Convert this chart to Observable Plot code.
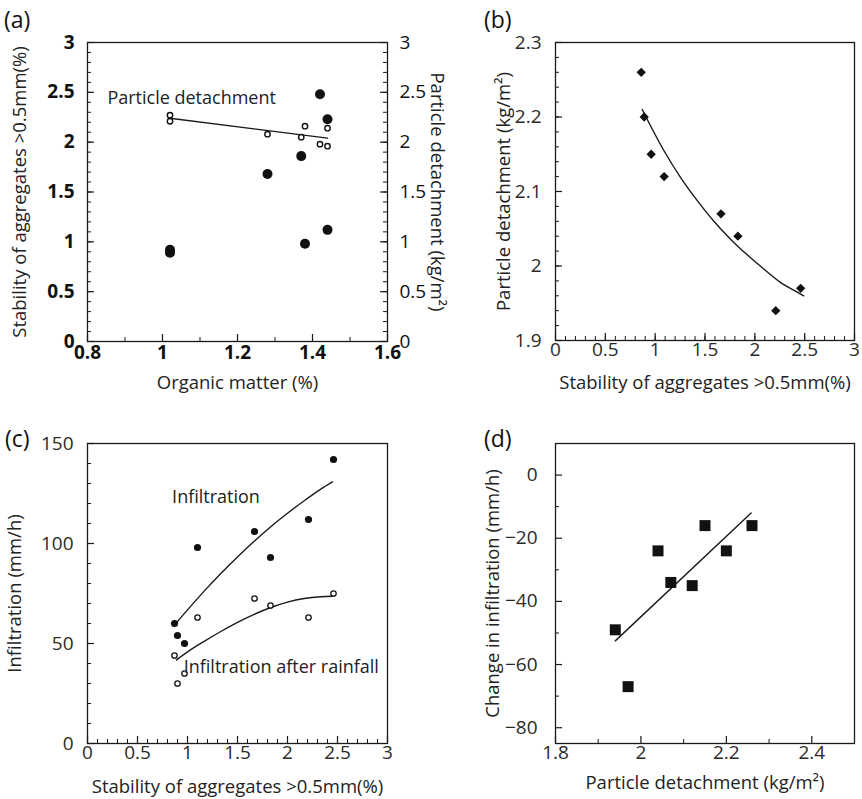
<!DOCTYPE html>
<html><head><meta charset="utf-8">
<script src="https://cdn.jsdelivr.net/npm/d3@7"></script>
<script src="https://cdn.jsdelivr.net/npm/@observablehq/plot@0.6"></script>
<style>
body{margin:0;background:#fff;}
#wrap{position:relative;width:862px;height:799px;overflow:hidden;font-family:"Open Sans",sans-serif;background:#fff;}
.panel{position:absolute;}
.tag{position:absolute;font-size:23px;color:#111;line-height:1;font-family:"Open Sans",sans-serif;}
</style></head><body><div id="wrap"></div>
<script>
// ---------- DATA ----------
// (a) organic matter vs stability (filled) and particle detachment (open)
const omA = [1.02, 1.02, 1.28, 1.37, 1.38, 1.42, 1.44, 1.44];
const stabilityA = [0.92, 0.89, 1.68, 1.86, 0.98, 2.48, 2.23, 1.12];
const omOpenA = [1.02, 1.02, 1.28, 1.37, 1.38, 1.42, 1.44, 1.44];
const detachA = [2.27, 2.21, 2.08, 2.05, 2.16, 1.98, 2.14, 1.96];
const fitA_x = [1.02, 1.44];
const fitA_y = [2.24, 2.04];
const xTicksA = [0.8, 1, 1.2, 1.4, 1.6];
const yTicksA = [0, 0.5, 1, 1.5, 2, 2.5, 3];

// (b) stability vs particle detachment
const stabB = [0.86, 0.89, 0.96, 1.09, 1.66, 1.83, 2.21, 2.46];
const detachB = [2.26, 2.20, 2.15, 2.12, 2.07, 2.04, 1.94, 1.97];
const fitB_x = [0.87, 1.087, 1.254, 1.421, 1.589, 1.756, 1.923, 2.09, 2.257, 2.425, 2.49];
const fitB_y = [2.21, 2.155, 2.119, 2.088, 2.060, 2.036, 2.015, 1.996, 1.978, 1.965, 1.960];
const xTicksB = [0, 0.5, 1, 1.5, 2, 2.5, 3];
const yTicksB = [1.9, 2, 2.1, 2.2, 2.3];

// (c) stability vs infiltration (filled) and infiltration after rainfall (open)
const stabC = [0.87, 0.90, 0.97, 1.10, 1.67, 1.83, 2.21, 2.46];
const infilC = [60, 54, 50, 98, 106, 93, 112, 142];
const infilRainC = [44, 30, 35, 63, 72.5, 69, 63, 75];
const fitC1_x = [0.88, 1.0, 1.167, 1.333, 1.5, 1.667, 1.833, 2.0, 2.167, 2.333, 2.45];
const fitC1_y = [59.8, 66.8, 76.2, 85, 93.3, 101.1, 108.4, 115.1, 121.4, 127.2, 130.8];
const fitC2_x = [0.89, 1.0, 1.167, 1.333, 1.5, 1.667, 1.833, 2.0, 2.167, 2.333, 2.45];
const fitC2_y = [41.8, 45.8, 51.1, 56.0, 60.6, 64.6, 68.0, 70.7, 72.5, 73.4, 73.6];
const xTicksC = [0, 0.5, 1, 1.5, 2, 2.5, 3];
const yTicksC = [0, 50, 100, 150];

// (d) particle detachment vs change in infiltration
const detachD = [1.94, 1.97, 2.04, 2.07, 2.12, 2.15, 2.20, 2.26];
const changeD = [-49, -67, -24, -34, -35, -16, -24, -16];
const fitD_x = [1.94, 2.258];
const fitD_y = [-52.5, -12];
const xTicksD = [1.8, 2, 2.2, 2.4];
const yTicksD = [0, -20, -40, -60, -80];

// annotation labels
const annA = [{label: "Particle detachment", x: 0.853, y: 2.44}];
const annC = [{label: "Infiltration", x: 0.846, y: 123}, {label: "Infiltration after rainfall", x: 0.962, y: 38}];

// ---------- helpers ----------
const INK = "#1a1a1a";
const TITLE = 18.5;
const fmt = d3.format("~g");
const zip = (xs, ys) => xs.map((x, i) => ({x, y: ys[i]}));
const range = (a, b, s) => d3.range(Math.round((b - a) / s) + 1).map(i => +(a + i * s).toFixed(6));

function tickRules({xd, yd, xMinor, xMajor, yMinor, yMajor, right}) {
  const m = [];
  const x0 = xd[0], x1 = xd[1], y0 = yd[0];
  m.push(Plot.ruleX(xMinor, {x: d => d, y1: () => y0, y2: () => y0, insetBottom: 4, stroke: INK, strokeWidth: 1}));
  m.push(Plot.ruleX(xMajor, {x: d => d, y1: () => y0, y2: () => y0, insetBottom: 7, stroke: INK, strokeWidth: 1.2}));
  m.push(Plot.ruleY(yMinor, {y: d => d, x1: () => x0, x2: () => x0, insetRight: -4, stroke: INK, strokeWidth: 1}));
  m.push(Plot.ruleY(yMajor, {y: d => d, x1: () => x0, x2: () => x0, insetRight: -7, stroke: INK, strokeWidth: 1.2}));
  if (right) {
    m.push(Plot.ruleY(yMinor, {y: d => d, x1: () => x1, x2: () => x1, insetLeft: -4, stroke: INK, strokeWidth: 1}));
    m.push(Plot.ruleY(yMajor, {y: d => d, x1: () => x1, x2: () => x1, insetLeft: -7, stroke: INK, strokeWidth: 1.2}));
  }
  return m;
}

function makePanel({left, top, width, height, margins, xd, yd, xMajor, yMajor, xMinor, yMinor, right, bold,
                    xTitle, yTitle, rTitle, xTitleDy, yTitleDx, rTitleDx, yPad, xPad, marks}) {
  const fw = bold ? "bold" : "normal";
  const tickFill = bold ? "#111" : "#2a2a2a";
  const allMarks = [
    ...tickRules({xd, yd, xMinor, xMajor, yMinor, yMajor, right}),
    Plot.frame({stroke: INK, strokeWidth: 1.3}),
    Plot.axisX({ticks: xMajor, tickSize: 0, tickPadding: xPad, tickFormat: fmt, fontSize: 19, fontWeight: fw, fill: tickFill, label: null}),
    Plot.axisY({anchor: "left", ticks: yMajor, tickSize: 0, tickPadding: yPad, tickFormat: fmt, fontSize: 19, fontWeight: fw, fill: tickFill, label: null}),
    Plot.text([xTitle], {frameAnchor: "bottom", dy: xTitleDy, text: d => d, textAnchor: "middle", lineAnchor: "middle", fontSize: TITLE, fill: "#222"}),
    Plot.text([yTitle], {frameAnchor: "left", rotate: -90, dx: yTitleDx, text: d => d, textAnchor: "middle", lineAnchor: "middle", fontSize: TITLE, fill: "#222"}),
    ...marks
  ];
  if (right) {
    allMarks.push(Plot.axisY({anchor: "right", ticks: yMajor, tickSize: 0, tickPadding: 12, tickFormat: fmt, fontSize: 19, fontWeight: "normal", fill: tickFill, label: null}));
    allMarks.push(Plot.text([rTitle], {frameAnchor: "right", rotate: 90, dx: rTitleDx, text: d => d, textAnchor: "middle", lineAnchor: "middle", fontSize: TITLE, fill: "#222"}));
  }
  const chart = Plot.plot({
    width, height,
    marginLeft: margins[0], marginRight: margins[1], marginTop: margins[2], marginBottom: margins[3],
    x: {domain: xd},
    y: {domain: yd},
    style: {fontFamily: "'Open Sans', sans-serif", background: "transparent", overflow: "visible", color: INK},
    marks: allMarks
  });
  const div = document.createElement("div");
  div.className = "panel";
  div.style.left = left + "px";
  div.style.top = top + "px";
  div.style.width = width + "px";
  div.appendChild(chart);
  document.getElementById("wrap").appendChild(div);
}

function tag(txt, l, t) {
  const d = document.createElement("div");
  d.className = "tag"; d.textContent = txt; d.style.left = l + "px"; d.style.top = t + "px";
  document.getElementById("wrap").appendChild(d);
}

// ---------- (a) ----------
makePanel({
  left: 0, top: 0, width: 431, height: 400, margins: [87, 44, 42, 59],
  xd: [0.8, 1.6], yd: [0, 3],
  xMajor: xTicksA, xMinor: [0.9, 1.1, 1.3, 1.5],
  yMajor: yTicksA, yMinor: range(0, 3, 0.1),
  right: true, bold: true, xPad: 4, yPad: 13,
  xTitle: "Organic matter (%)", yTitle: "Stability of aggregates >0.5mm(%)", rTitle: "Particle detachment (kg/m²)",
  xTitleDy: 42, yTitleDx: -67, rTitleDx: 49,
  marks: [
    Plot.line(zip(fitA_x, fitA_y), {x: "x", y: "y", stroke: INK, strokeWidth: 1.4}),
    Plot.dot(zip(omA, stabilityA), {x: "x", y: "y", r: 5, fill: "#111", stroke: "none"}),
    Plot.dot(zip(omOpenA, detachA), {x: "x", y: "y", r: 2.7, fill: "white", stroke: "#111", strokeWidth: 1.4}),
    Plot.text(annA, {x: "x", y: "y", text: "label", textAnchor: "start", fontSize: 18, fill: "#222"})
  ]
});
// ---------- (b) ----------
makePanel({
  left: 431, top: 0, width: 431, height: 400, margins: [124, 8, 42, 60],
  xd: [0, 3], yd: [1.9, 2.3],
  xMajor: xTicksB, xMinor: range(0, 3, 0.1),
  yMajor: yTicksB, yMinor: range(1.9, 2.3, 0.02),
  right: false, bold: false, xPad: 2, yPad: 14,
  xTitle: "Stability of aggregates >0.5mm(%)", yTitle: "Particle detachment (kg/m²)",
  xTitleDy: 43, yTitleDx: -51,
  marks: [
    Plot.line(zip(fitB_x, fitB_y), {x: "x", y: "y", stroke: INK, strokeWidth: 1.4, curve: "monotone-x"}),
    Plot.dot(zip(stabB, detachB), {x: "x", y: "y", symbol: "square", rotate: 45, r: 3.7, fill: "#111", stroke: "none"})
  ]
});
// ---------- (c) ----------
makePanel({
  left: 0, top: 400, width: 431, height: 399, margins: [87, 44, 43, 56],
  xd: [0, 3], yd: [0, 150],
  xMajor: xTicksC, xMinor: range(0, 3, 0.1),
  yMajor: yTicksC, yMinor: range(0, 150, 10),
  right: false, bold: false, xPad: 2, yPad: 14,
  xTitle: "Stability of aggregates >0.5mm(%)", yTitle: "Infiltration (mm/h)",
  xTitleDy: 44, yTitleDx: -72,
  marks: [
    Plot.line(zip(fitC1_x, fitC1_y), {x: "x", y: "y", stroke: INK, strokeWidth: 1.4, curve: "monotone-x"}),
    Plot.line(zip(fitC2_x, fitC2_y), {x: "x", y: "y", stroke: INK, strokeWidth: 1.4, curve: "monotone-x"}),
    Plot.dot(zip(stabC, infilC), {x: "x", y: "y", r: 3.6, fill: "#111", stroke: "none"}),
    Plot.dot(zip(stabC, infilRainC), {x: "x", y: "y", r: 2.7, fill: "white", stroke: "#111", strokeWidth: 1.3}),
    Plot.text(annC, {x: "x", y: "y", text: "label", textAnchor: "start", fontSize: 18, fill: "#222"})
  ]
});
// ---------- (d) ----------
makePanel({
  left: 431, top: 400, width: 431, height: 399, margins: [124, 8, 43, 56],
  xd: [1.8, 2.5], yd: [-85, 10],
  xMajor: xTicksD, xMinor: [1.9, 2.1, 2.3],
  yMajor: yTicksD, yMinor: [-10, -30, -50, -70],
  right: false, bold: false, xPad: 2, yPad: 18,
  xTitle: "Particle detachment (kg/m²)", yTitle: "Change in infiltration (mm/h)",
  xTitleDy: 40, yTitleDx: -62,
  marks: [
    Plot.line(zip(fitD_x, fitD_y), {x: "x", y: "y", stroke: INK, strokeWidth: 1.4}),
    Plot.dot(zip(detachD, changeD), {x: "x", y: "y", symbol: "square", r: 6.2, fill: "#111", stroke: "none"})
  ]
});

tag("(a)", 4, 8);
tag("(b)", 484, 8);
tag("(c)", 5, 427);
tag("(d)", 484, 427);
</script>
</body></html>
